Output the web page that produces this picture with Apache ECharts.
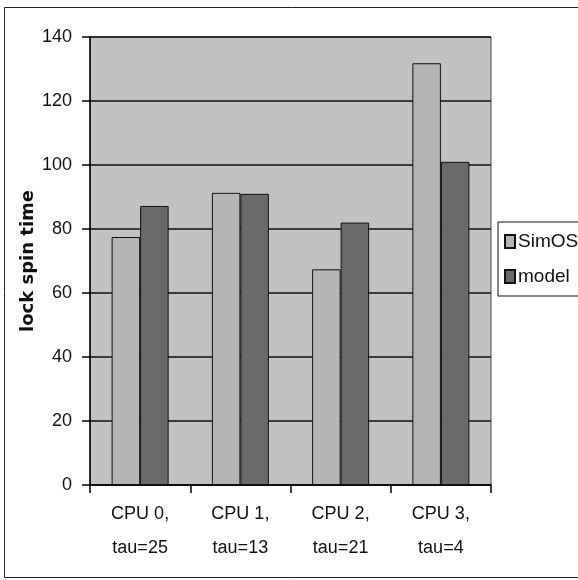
<!DOCTYPE html>
<html>
<head>
<meta charset="utf-8">
<script src="https://cdn.jsdelivr.net/npm/echarts@6/dist/echarts.min.js"></script>
<style>
html,body{margin:0;padding:0;background:#fff;}
#chart{width:578px;height:580px;}
</style>
</head>
<body>
<div id="chart"></div>
<script>
const categories = ["CPU 0,\ntau=25", "CPU 1,\ntau=13", "CPU 2,\ntau=21", "CPU 3,\ntau=4"];
const simosValues = [77.5, 91.3, 67.4, 131.8];
const modelValues = [87.2, 91.0, 82.0, 101.0];
const seriesNames = ["SimOS", "model"];
const yTicks = { min: 0, max: 140, interval: 20 };

const narrow = "'Liberation Sans Narrow', 'Arial Narrow', 'Liberation Sans', sans-serif";
const chart = echarts.init(document.getElementById('chart'), null, { renderer: 'canvas' });
chart.setOption({
  animation: false,
  backgroundColor: '#ffffff',
  graphic: [{
    type: 'rect', silent: true, z: -10,
    shape: { x: 4.5, y: 7.5, width: 600, height: 570 },
    style: { fill: 'none', stroke: '#222', lineWidth: 1 }
  }],
  grid: {
    left: 90, top: 37, right: 87, bottom: 95,
    show: true, backgroundColor: '#c2c2c2', borderColor: '#444', borderWidth: 1
  },
  legend: {
    orient: 'vertical', left: 498, top: 222,
    itemWidth: 10, itemHeight: 13, itemGap: 16,
    padding: [10, 8, 10, 6],
    borderColor: '#111', borderWidth: 1, backgroundColor: '#fff',
    icon: 'rect',
    textStyle: { fontFamily: narrow, fontSize: 19, color: '#111', padding: [0, 0, 0, -2] },
    data: seriesNames
  },
  xAxis: {
    type: 'category', data: categories,
    axisLine: { lineStyle: { color: '#000', width: 1.5 } },
    axisTick: { show: true, length: 8, lineStyle: { color: '#000', width: 1.5 } },
    axisLabel: { fontFamily: narrow, fontSize: 18, color: '#111', margin: 12, lineHeight: 34, interval: 0 }
  },
  yAxis: {
    type: 'value', min: yTicks.min, max: yTicks.max, interval: yTicks.interval,
    name: 'lock spin time', nameLocation: 'middle', nameGap: 53, nameRotate: 90,
    nameMoveOverlap: false,
    nameTextStyle: { fontFamily: "'DejaVu Sans', sans-serif", fontWeight: 'bold', fontSize: 18, color: '#111' },
    axisLine: { show: true, lineStyle: { color: '#000', width: 1.5 } },
    axisTick: { show: true, length: 8, lineStyle: { color: '#000', width: 1.5 } },
    axisLabel: { fontFamily: narrow, fontSize: 18, color: '#111', margin: 18 },
    splitLine: { show: true, lineStyle: { color: '#111', width: 1.5 } }
  },
  series: [
    {
      name: seriesNames[0], type: 'bar', data: simosValues,
      barWidth: 28.5, barGap: '0%',
      itemStyle: { color: '#b5b5b5', borderColor: '#111', borderWidth: 1 }
    },
    {
      name: seriesNames[1], type: 'bar', data: modelValues,
      barWidth: 28.5, barGap: '0%',
      itemStyle: { color: '#6a6a6a', borderColor: '#111', borderWidth: 1 }
    }
  ]
});
</script>
</body>
</html>
